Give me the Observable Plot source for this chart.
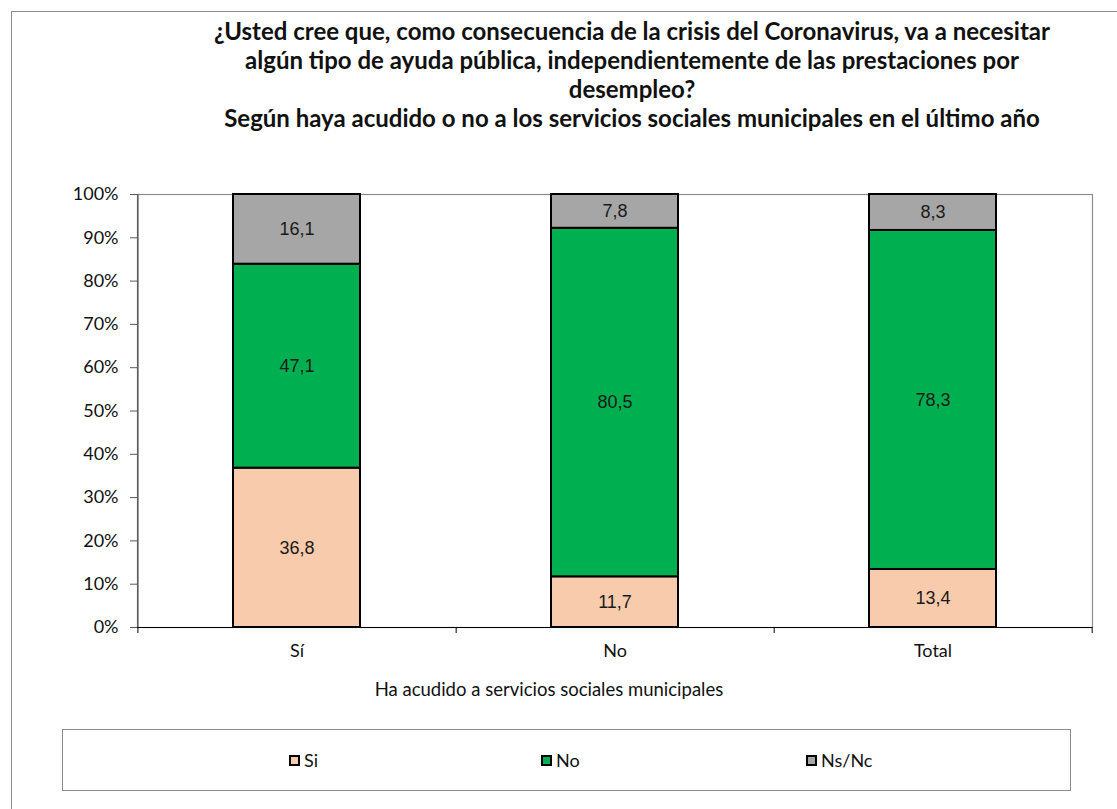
<!DOCTYPE html>
<html>
<head>
<meta charset="utf-8">
<script src="https://cdn.jsdelivr.net/npm/d3@7"></script>
<script src="https://cdn.jsdelivr.net/npm/@observablehq/plot@0.6"></script>
<style>
  html, body { margin: 0; padding: 0; background: #fff; }
  #wrap { position: relative; width: 1117px; height: 809px; overflow: hidden; background: #fff; font-family: Lato, "Open Sans", sans-serif; }
  #outerTop { position: absolute; left: 11px; top: 11px; width: 1120px; height: 0; border-top: 1px solid #8c8c8c; }
  #outerLeft { position: absolute; left: 11px; top: 11px; width: 0; height: 820px; border-left: 1px solid #8c8c8c; }
  #title { position: absolute; left: 82px; width: 1100px; top: 16px; text-align: center; font-weight: bold; font-size: 24px; line-height: 29px; color: #111; }
  #chart { position: absolute; left: 0; top: 0; }
  #xtitle { position: absolute; left: 249px; width: 600px; top: 678px; text-align: center; font-size: 18.5px; color: #111; }
  #legend { position: absolute; left: 62px; top: 729px; width: 1007px; height: 60px; border: 1px solid #8c8c8c; }
  .li { position: absolute; top: 19px; font-size: 18px; color: #111; line-height: 22px; display: flex; align-items: center; }
  .sw { width: 7px; height: 7px; border: 2px solid #000; margin-right: 4px; }
</style>
</head>
<body>
<div id="wrap">
  <div id="outerTop"></div>
  <div id="outerLeft"></div>
  <div id="title">¿Usted cree que, como consecuencia de la crisis del Coronavirus, va a necesitar<br>algún tipo de ayuda pública, independientemente de las prestaciones por<br>desempleo?<br>Según haya acudido o no a los servicios sociales municipales en el último año</div>
  <div id="chart"></div>
  <div id="xtitle">Ha acudido a servicios sociales municipales</div>
  <div id="legend"></div>
</div>
<script>
// Data
const categories = ["Sí", "No", "Total"];
const responses = ["Si", "No", "Ns/Nc"];
const valuesSi = [36.8, 11.7, 13.4];
const valuesNo = [47.1, 80.5, 78.3];
const valuesNsNc = [16.1, 7.8, 8.3];
const colors = ["#F8CBAD", "#00B050", "#A6A6A6"];
const yTicks = [0, 10, 20, 30, 40, 50, 60, 70, 80, 90, 100];

const series = [valuesSi, valuesNo, valuesNsNc];
const data = [];
categories.forEach((c, i) => {
  responses.forEach((r, j) => data.push({cat: c, resp: r, value: series[j][i]}));
});

const W = 1117, H = 700, mL = 137, mR = 25, mT = 194, mB = 73;
const half = (W - mL - mR) / categories.length / 2;
const fmt = v => v.toFixed(1).replace(".", ",");

const chart = Plot.plot({
  width: W,
  height: H,
  marginLeft: mL,
  marginRight: mR,
  marginTop: mT,
  marginBottom: mB,
  style: {fontFamily: "Lato, sans-serif", fontSize: "18px", background: "transparent", color: "#111"},
  x: {domain: categories, paddingInner: 0.6, paddingOuter: 0.3, label: null},
  y: {domain: [0, 100], label: null},
  color: {domain: responses, range: colors},
  marks: [
    Plot.frame({stroke: "#8c8c8c", strokeWidth: 1.2}),
    Plot.barY(data, {x: "cat", y: "value", fill: "resp", order: responses, stroke: "#000", strokeWidth: 2}),
    Plot.text(data, Plot.stackY({x: "cat", y: "value", z: "resp", order: responses, text: d => fmt(d.value), fontFamily: "'Liberation Sans', Arial, sans-serif", fontSize: 18, fill: "#1a1a1a"})),
    Plot.ruleX([categories[0]], {x: d => d, dx: -half, stroke: "#595959", strokeWidth: 1.5, insetBottom: -6}),
    Plot.ruleY([0], {stroke: "#000", strokeWidth: 1.2}),
    Plot.ruleX(categories, {x: d => d, dx: half, stroke: "#000", insetTop: H - mT - mB, insetBottom: -6}),
    Plot.axisY({ticks: yTicks, tickFormat: d => d + "%", tickSize: 7, tickPadding: 12, stroke: "#595959", fontSize: 18}),
    Plot.axisX({tickSize: 0, tickPadding: 17, fontSize: 18})
  ]
});
document.getElementById("chart").appendChild(chart);

// Legend
const legendX = [226, 478, 743];
const legend = document.getElementById("legend");
responses.forEach((r, i) => {
  const item = document.createElement("div");
  item.className = "li";
  item.style.left = legendX[i] + "px";
  const sw = document.createElement("span");
  sw.className = "sw";
  sw.style.background = colors[i];
  item.appendChild(sw);
  item.appendChild(document.createTextNode(r));
  legend.appendChild(item);
});
</script>
</body>
</html>
